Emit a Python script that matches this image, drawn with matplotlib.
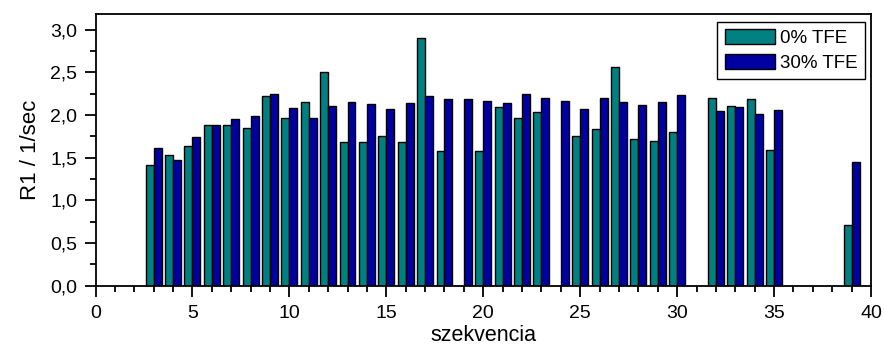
import numpy as np
import matplotlib.pyplot as plt
from matplotlib.ticker import MultipleLocator, FuncFormatter

plt.rcParams['font.family'] = ['Liberation Sans', 'DejaVu Sans']

# --- data ------------------------------------------------------------
pos_0 = [3, 4, 5, 6, 7, 8, 9, 10, 11, 12, 13, 14, 15, 16, 17, 18, 20, 21, 22,
         23, 25, 26, 27, 28, 29, 30, 32, 33, 34, 35, 39]
r1_0 = [1.41, 1.53, 1.64, 1.88, 1.88, 1.85, 2.22, 1.97, 2.15, 2.50, 1.68, 1.68,
        1.76, 1.68, 2.90, 1.58, 1.58, 2.09, 1.97, 2.03, 1.76, 1.84, 2.56, 1.72,
        1.70, 1.80, 2.20, 2.11, 2.19, 1.59, 0.71]

pos_30 = [3, 4, 5, 6, 7, 8, 9, 10, 11, 12, 13, 14, 15, 16, 17, 18, 19, 20, 21,
          22, 23, 24, 25, 26, 27, 28, 29, 30, 32, 33, 34, 35, 39]
r1_30 = [1.61, 1.47, 1.74, 1.88, 1.95, 1.99, 2.25, 2.08, 1.97, 2.11, 2.15, 2.13,
         2.07, 2.14, 2.22, 2.19, 2.19, 2.16, 2.14, 2.25, 2.20, 2.16, 2.07, 2.20,
         2.15, 2.12, 2.15, 2.23, 2.05, 2.09, 2.01, 2.06, 1.45]

# --- plot ------------------------------------------------------------
fig = plt.figure(figsize=(8.84, 3.45), dpi=100)
ax = fig.add_axes([95.5 / 884, 1 - 285.7 / 345, (871 - 95.5) / 884, (285.7 - 13.5) / 345])

w = 0.41
ax.bar(np.array(pos_0) - w / 2, r1_0, width=w, color='#008080',
       edgecolor='black', linewidth=1.0, label='0% TFE')
ax.bar(np.array(pos_30) + w / 2, r1_30, width=w, color='#0000A0',
       edgecolor='black', linewidth=1.0, label='30% TFE')

ax.set_xlim(0, 40)
ax.set_ylim(0, 3.19)

ax.xaxis.set_major_locator(MultipleLocator(5))
ax.xaxis.set_minor_locator(MultipleLocator(1))
ax.yaxis.set_major_locator(MultipleLocator(0.5))
ax.yaxis.set_minor_locator(MultipleLocator(0.25))
ax.yaxis.set_major_formatter(FuncFormatter(lambda v, p: f'{v:.1f}'.replace('.', ',')))

ax.tick_params(which='major', direction='out', length=8, width=1.3, labelsize=14)
ax.tick_params(axis='x', which='major', pad=6)
ax.tick_params(axis='y', which='major', pad=5)
ax.tick_params(which='minor', direction='out', length=4, width=1.3)
for s in ax.spines.values():
    s.set_linewidth(1.3)

ax.set_xlabel('szekvencia', fontsize=15.5, labelpad=2)
ax.set_ylabel('R1 / 1/sec', fontsize=16, labelpad=7)

leg = ax.legend(loc='upper right', fontsize=13.5, fancybox=False, framealpha=1,
                edgecolor='black', handlelength=2.67, handleheight=0.85,
                borderaxespad=0, borderpad=0.4, handletextpad=0.27,
                labelspacing=0.35, bbox_to_anchor=(0.9923, 0.970))
leg.get_frame().set_linewidth(1.0)

fig.savefig('out.png', dpi=100)
